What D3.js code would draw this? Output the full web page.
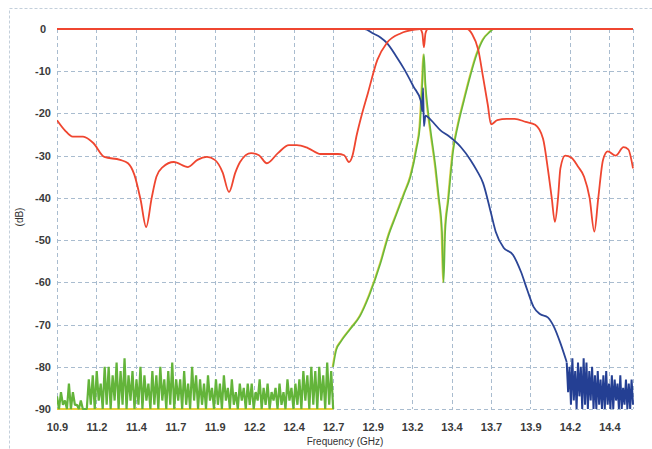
<!DOCTYPE html>
<html>
<head>
<meta charset="utf-8">
<script src="https://cdn.jsdelivr.net/npm/d3@7"></script>
<style>
  html, body { margin:0; padding:0; background:#fff; }
  svg { display:block; font-family:"Liberation Sans", Arial, sans-serif; }
</style>
</head>
<body>
<svg id="chart" width="652" height="449"></svg>
<script>
// ---- data (GHz, dB) ----
const xTicks = [10.9, 11.15, 11.4, 11.65, 11.9, 12.15, 12.4, 12.65, 12.9, 13.15, 13.4, 13.65, 13.9, 14.15, 14.4];
const xTickLabels = ["10.9","11.2","11.4","11.7","11.9","12.2","12.4","12.7","12.9","13.2","13.4","13.7","13.9","14.2","14.4"];
const yTicks = [0, -10, -20, -30, -40, -50, -60, -70, -80, -90];

// red: return loss of the input port
const redS11 = [
  [10.9,-21.6],[10.95,-24],[11.0,-25.5],[11.065,-25.5],[11.13,-27],[11.2,-30.3],[11.3,-31],[11.35,-31.8],
  [11.39,-34.5],[11.43,-40.5],[11.465,-46.9],[11.5,-40],[11.53,-35],[11.57,-32.7],[11.64,-31.5],[11.73,-32.7],
  [11.79,-31],[11.85,-30.3],[11.9,-31],[11.95,-34],[11.99,-38.6],[12.03,-34],[12.06,-31.5],[12.13,-29.4],
  [12.18,-29.9],[12.23,-31.8],[12.3,-29.4],[12.37,-27.5],[12.42,-27.5],[12.49,-28.2],[12.57,-29.6],[12.68,-29.6],
  [12.72,-29.9],[12.75,-31.5],[12.77,-30.3],[12.8,-25],[12.83,-20.5],[12.87,-15.2],[12.93,-7.3],[12.99,-3.3],
  [13.08,-1],[13.16,-0.2],[13.2,0],[13.5,0],[13.53,-1.2],[13.57,-5],[13.6,-11.4],[13.63,-18],[13.65,-22.6],
  [13.69,-21.6],[13.75,-21.3],[13.8,-21.3],[13.87,-22],[13.93,-22.7],[13.98,-26],[14.01,-33],[14.035,-40],
  [14.055,-45.7],[14.075,-40],[14.09,-33],[14.12,-30],[14.16,-30.5],[14.2,-32.5],[14.24,-35],[14.275,-40],
  [14.305,-48],[14.33,-40],[14.36,-31],[14.39,-29],[14.44,-30],[14.49,-28],[14.52,-28.5],[14.55,-33]
];
// red: flat trace along 0 dB with its small dip
const redTop = [[10.9,0],[13.2,0],[13.215,-1],[13.225,-4.3],[13.235,-1],[13.25,0],[14.55,0]];

// blue: smooth part, then the noisy floor
const blueMain = [
  [10.9,0],[12.85,0],[12.9,-1],[12.95,-2],[12.99,-3.3],[13.05,-6.5],[13.1,-9.5],[13.16,-13.7],[13.205,-17],
  [13.215,-19.5],[13.22,-14],[13.225,-23],[13.235,-20.5],[13.27,-21.6],[13.33,-24],[13.38,-25.3],[13.46,-28],
  [13.52,-31],[13.56,-33.5],[13.6,-36.5],[13.65,-43.6],[13.68,-48],[13.73,-51.8],[13.79,-53.5],[13.84,-57.5],
  [13.88,-61.8],[13.92,-65.8],[13.96,-67.5],[14.01,-68.3],[14.05,-70.6],[14.09,-74.4],[14.13,-78.9]
];
const blueNoiseStart = 14.13, blueNoiseEnd = 14.55;
const blueNoise = [
  -79,-86,-80,-89,-78,-88,-81,-90,-79,-87,-80,-90,-78,-89,-79,-90,-81,-88,-80,-90,-82,-90,-81,-89,
  -83,-90,-82,-90,-81,-89,-84,-90,-82,-90,-83,-88,-84,-90,-82,-90,-85,-89,-83,-90,-84,-90,-83,-89
];

// green: noisy floor, then the filter response
const greenNoiseStart = 10.9, greenNoiseEnd = 12.65;
const greenNoise = [
  -87,-90,-86,-89,-88,-90,-84,-90,-86,-89,-89,-90,-88,-90,-90,-90,-83,-89,-82,-90,-81,-88,-84,-90,-80,-89,
  -80,-90,-82,-88,-79,-90,-81,-89,-78,-90,-82,-88,-81,-90,-83,-89,-80,-90,-82,-88,-84,-90,-81,-89,
  -82,-90,-80,-88,-83,-90,-81,-89,-79,-90,-83,-88,-83,-90,-81,-89,-84,-90,-80,-88,-82,-90,-83,-89,
  -84,-90,-82,-88,-85,-90,-83,-89,-84,-90,-82,-88,-85,-90,-83,-89,-86,-90,-84,-88,-85,-90,-84,-89,
  -84,-90,-86,-88,-83,-90,-85,-89,-84,-90,-86,-88,-85,-90,-84,-89,-86,-90,-83,-88,-85,-90,-84,-89,
  -83,-90,-81,-88,-82,-90,-80,-89,-81,-90,-80,-88,-82,-90,-79,-89,-81,-90
];
const greenMain = [
  [12.65,-80],[12.67,-76],[12.7,-74],[12.76,-71],[12.82,-68],[12.88,-63],[12.95,-55.5],[13.0,-49],[13.05,-44],
  [13.1,-39],[13.14,-35],[13.18,-28],[13.2,-23],[13.215,-13],[13.225,-6],[13.235,-13],[13.25,-19],[13.27,-24.7],
  [13.3,-33],[13.32,-40],[13.34,-48],[13.35,-60],[13.36,-48],[13.38,-40.5],[13.41,-29],[13.44,-23],[13.48,-16.8],
  [13.52,-11],[13.56,-6],[13.6,-2.5],[13.64,-0.8],[13.67,0],[14.55,0]
];
const yellowFloor = [[10.9,-90],[12.65,-90]];

// ---- drawing ----
const W = 652, H = 449;
const svg = d3.select("#chart");
const x = d3.scaleLinear().domain([10.9, 14.55]).range([57, 633]);
const y = d3.scaleLinear().domain([-90, 0]).range([409, 29]);

svg.append("rect").attr("width",W).attr("height",H).attr("fill","#fff");
// outer dashed frame
svg.append("rect").attr("x",9.5).attr("y",8.5).attr("width",700).attr("height",500)
  .attr("fill","none").attr("stroke","#c3cfdb").attr("stroke-dasharray","3,2");

// grid
const grid = svg.append("g").attr("stroke","#a9bccf").attr("stroke-width",1).attr("stroke-dasharray","4,3");
grid.selectAll("line.v").data(xTicks.concat([14.55])).enter().append("line")
  .attr("x1",d=>Math.round(x(d))+0.5).attr("x2",d=>Math.round(x(d))+0.5)
  .attr("y1",y(0)).attr("y2",y(-90));
grid.selectAll("line.h").data(yTicks).enter().append("line")
  .attr("y1",d=>Math.round(y(d))+0.5).attr("y2",d=>Math.round(y(d))+0.5)
  .attr("x1",x(10.9)).attr("x2",x(14.55));

// axes
const xAxis = d3.axisBottom(x).tickValues(xTicks).tickSize(0).tickPadding(0)
  .tickFormat((d,i)=>xTickLabels[i]);
svg.append("g").attr("transform",`translate(0,${y(-90)+14})`).call(xAxis)
  .call(g=>g.select(".domain").remove())
  .selectAll("text").attr("fill","#3b3b3b").style("font-size","11px").style("font-weight","bold")
  .style("font-family","'Liberation Sans', Arial, sans-serif");

const yAxis = d3.axisLeft(y).tickValues(yTicks).tickSize(0).tickPadding(0).tickFormat(d=>d===0?"0":String(d));
svg.append("g").attr("transform","translate(43,0)").call(yAxis)
  .call(g=>g.select(".domain").remove())
  .selectAll("text").attr("text-anchor","middle").attr("fill","#3b3b3b").style("font-size","11px")
  .style("font-weight","bold").style("font-family","'Liberation Sans', Arial, sans-serif");

svg.append("text").attr("x",345).attr("y",445).attr("text-anchor","middle")
  .attr("fill","#333").style("font-size","10px").text("Frequency (GHz)");
svg.append("text").attr("transform","translate(23,217) rotate(-90)").attr("text-anchor","middle")
  .attr("fill","#333").style("font-size","10px").text("(dB)");

// clip
svg.append("defs").append("clipPath").attr("id","plot")
  .append("rect").attr("x",x(10.9)).attr("y",y(0)-3).attr("width",x(14.55)-x(10.9)+1).attr("height",y(-90)-y(0)+4);
const plot = svg.append("g").attr("clip-path","url(#plot)");

const smooth = d3.line().x(d=>x(d[0])).y(d=>y(d[1])).curve(d3.curveMonotoneX);
const straight = d3.line().x(d=>x(d[0])).y(d=>y(d[1]));
const noisePts = (vals, f0, f1) => {
  const fx = d3.scaleLinear().domain([0, vals.length-1]).range([f0, f1]);
  return vals.map((v,i)=>[fx(i), v]);
};

// yellow floor
plot.append("path").attr("d",straight(yellowFloor)).attr("fill","none")
  .attr("stroke","#e6d03a").attr("stroke-width",2);

// green
plot.append("path").attr("d",straight(noisePts(greenNoise, greenNoiseStart, greenNoiseEnd)))
  .attr("fill","none").attr("stroke","#63b43a").attr("stroke-width",2.2).attr("stroke-linejoin","bevel");
plot.append("path").attr("d",smooth(greenMain)).attr("fill","none")
  .attr("stroke","#dccf48").attr("stroke-width",1.6).attr("transform","translate(-0.7,0)");
plot.append("path").attr("d",smooth(greenMain)).attr("fill","none")
  .attr("stroke","#6ab83a").attr("stroke-width",1.6);

// blue
plot.append("path").attr("d",smooth(blueMain)).attr("fill","none")
  .attr("stroke","#2b4596").attr("stroke-width",1.8);
plot.append("path").attr("d",straight(noisePts(blueNoise, blueNoiseStart, blueNoiseEnd)))
  .attr("fill","none").attr("stroke","#243f93").attr("stroke-width",2).attr("stroke-linejoin","bevel");

// red
plot.append("path").attr("d",smooth(redTop)).attr("fill","none")
  .attr("stroke","#ef4630").attr("stroke-width",1.8);
plot.append("path").attr("d",smooth(redS11)).attr("fill","none")
  .attr("stroke","#ef4630").attr("stroke-width",1.8);
</script>
</body>
</html>
